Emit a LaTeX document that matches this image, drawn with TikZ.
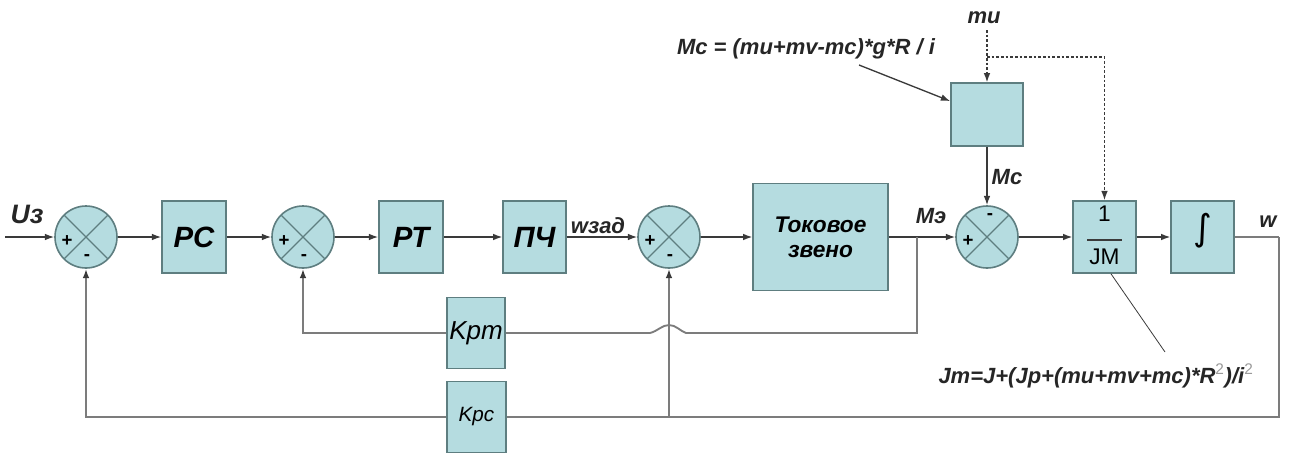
\documentclass[tikz,border=0pt]{standalone}
\usepackage{fontspec}
\setmainfont{Liberation Sans}
\newfontfamily\djv{DejaVu Sans}
\usetikzlibrary{arrows.meta,calc}
\definecolor{boxfill}{HTML}{B5DCE0}
\definecolor{boxline}{HTML}{5E7E80}
\definecolor{fbline}{HTML}{7C7C7C}
\definecolor{mainline}{HTML}{3A3A3A}
\definecolor{supgray}{HTML}{9A9A9A}
\begin{document}
\begin{tikzpicture}[x=0.75pt,y=-0.75pt,
  blk/.style={draw=boxline,fill=boxfill,line width=1.2pt,inner sep=0pt,
    font=\bfseries\itshape\fontsize{22}{24}\selectfont},
  sumnode/.style={circle,draw=boxline,fill=boxfill,line width=1.2pt,minimum size=46.5pt,inner sep=0pt,
    path picture={\draw[boxline,line width=1pt]
      (path picture bounding box.north west) -- (path picture bounding box.south east)
      (path picture bounding box.north east) -- (path picture bounding box.south west);}},
  sig/.style={draw=mainline,line width=1pt,-{Latex[length=7pt,width=5pt]}},
  fb/.style={draw=fbline,line width=1.4pt},
  fbarrow/.style={fb,-{Latex[length=7pt,width=5pt,color=mainline]}},
  dsh/.style={draw=mainline,line width=1pt,dashed,dash pattern=on 2pt off 1.5pt},
  lbl/.style={font=\bfseries\itshape\fontsize{16.5}{18}\selectfont,inner sep=0pt,text=black!85},
  fml/.style={font=\bfseries\itshape\fontsize{16.5}{18}\selectfont,inner sep=0pt,text=black!85},
  sgn/.style={font=\bfseries\fontsize{14}{14}\selectfont,inner sep=0pt}
]
\useasboundingbox (0,0) rectangle (1290,454);

% blocks on main line
\node[sumnode] (s1) at (86,237) {};
\node[blk,minimum width=48pt,minimum height=54pt] (pc) at (194,237) {РС};
\node[sumnode] (s2) at (303,237) {};
\node[blk,minimum width=48pt,minimum height=54pt] (rt) at (411,237) {РТ};
\node[blk,minimum width=47pt,minimum height=54pt] (pch) at (534.5,237) {ПЧ};
\node[sumnode] (s3) at (669,237) {};
\node[blk,minimum width=101pt,minimum height=80pt,align=center,
  font=\bfseries\itshape\fontsize{17}{19}\selectfont] (tok) at (820.5,237) {Токовое\\звено};
\node[sumnode] (s4) at (987,237) {};
\node[blk,minimum width=47pt,minimum height=54pt] (jm) at (1104.5,237) {};
\node[blk,minimum width=47pt,minimum height=54pt] (int) at (1202.5,237) {};
\node[blk,minimum width=54pt,minimum height=47pt] (mcb) at (987,114.5) {};
\node[blk,minimum width=43.5pt,minimum height=53pt,
  font=\itshape\fontsize{19.5}{21}\selectfont] (kpm) at (476,333) {Kpm};
\node[blk,minimum width=44pt,minimum height=53pt,
  font=\itshape\fontsize{15.5}{17}\selectfont] (kpc) at (476.5,417) {Kpc};

% contents of 1/JM and integrator
\node[font=\fontsize{17}{19}\selectfont,inner sep=0pt] (one) at (1104.5,214) {1};
\node[font=\fontsize{17}{19}\selectfont,inner sep=0pt] (jmt) at (1104.5,257) {JM};
\draw[mainline,line width=1pt] (1087,240) -- (1122,240);
\node[font=\djv\fontsize{27}{29}\selectfont,inner sep=0pt] (intsym) at (1203,231) {∫};

% signs
\node[sgn] at ($(s1)+(-19,4)$) {+};
\node[sgn] at ($(s1)+(1,21)$) {-};
\node[sgn] at ($(s2)+(-19,4)$) {+};
\node[sgn] at ($(s2)+(1,21)$) {-};
\node[sgn] at ($(s3)+(-19,4)$) {+};
\node[sgn] at ($(s3)+(1,21)$) {-};
\node[sgn] at ($(s4)+(-19,4)$) {+};
\node[sgn] at ($(s4)+(3,-20)$) {-};

% labels
\node[lbl,font=\bfseries\itshape\fontsize{20}{22}\selectfont] (uz) at (27,214) {Uз};
\node[lbl] (wz) at (598,226) {wзад};
\node[lbl] (me) at (931,216) {Mэ};
\node[lbl] (mcl) at (1007,177) {Mc};
\node[lbl] (wl) at (1268,222) {w};
\node[lbl] (mul) at (984,18) {mu};
\node[fml] (mcf) at (806,49) {Mc = (mu+mv-mc)*g*R / i};
\node[fml] (jmf) at (1096,376)
  {Jm=J+(Jp+(mu+mv+mc)*R\textcolor{supgray}{\textsuperscript{\mdseries\upshape 2}})/i\textcolor{supgray}{\textsuperscript{\mdseries\upshape 2}}};

% coordinates
\coordinate (in) at (5,237);
\coordinate (meb) at (917,237);
\coordinate (wout) at (1279,237);
\coordinate (fbc) at (1279,417);
\coordinate (j3) at (669,417);
\coordinate (kpmr) at (917,333);
\coordinate (bumpR) at (686,333);
\coordinate (bumpL) at (650,333);
\coordinate (mutop) at (987,30);
\coordinate (mub) at (987,57);
\coordinate (mur) at (1104.5,57);
\coordinate (mcfa) at (859,65);
\coordinate (jmfa) at (1165,352);

% main signal path
\draw[sig] (in) -- (s1.west);
\draw[sig] (s1.east) -- (pc.west);
\draw[sig] (pc.east) -- (s2.west);
\draw[sig] (s2.east) -- (rt.west);
\draw[sig] (rt.east) -- (pch.west);
\draw[sig] (pch.east) -- (s3.west);
\draw[sig] (s3.east) -- (tok.west);
\draw[sig] (tok.east) -- (s4.west);
\draw[sig] (s4.east) -- (jm.west);
\draw[sig] (jm.east) -- (int.west);
\draw[fb] (int.east) -- (wout);
\draw[sig] (mcb.south) -- (s4.north);

% speed feedback
\draw[fb] (wout) -- (fbc) -- (kpc.east);
\draw[fbarrow] (kpc.west) -| (s1.south);
\draw[fbarrow] (j3) -- (s3.south);

% current feedback with jump
\draw[fb] (meb) -- (kpmr) -- (bumpR) .. controls (680,331) and (676,325) .. (669,325)
  .. controls (662,325) and (658,331) .. (bumpL) -- (kpm.east);
\draw[fbarrow] (kpm.west) -| (s2.south);

% load torque
\draw[dsh,-{Latex[length=7pt,width=5pt]}] (mutop) -- (mcb.north);
\draw[dsh,-{Latex[length=7pt,width=5pt]}] (mub) -- (mur) -- (jm.north);
\draw[mainline,line width=1pt,-{Latex[length=7pt,width=5pt]}] (mcfa) -- (mcb.160);
\draw[mainline,line width=0.6pt] (jm.-80) -- (jmfa);
\end{tikzpicture}
\end{document}
